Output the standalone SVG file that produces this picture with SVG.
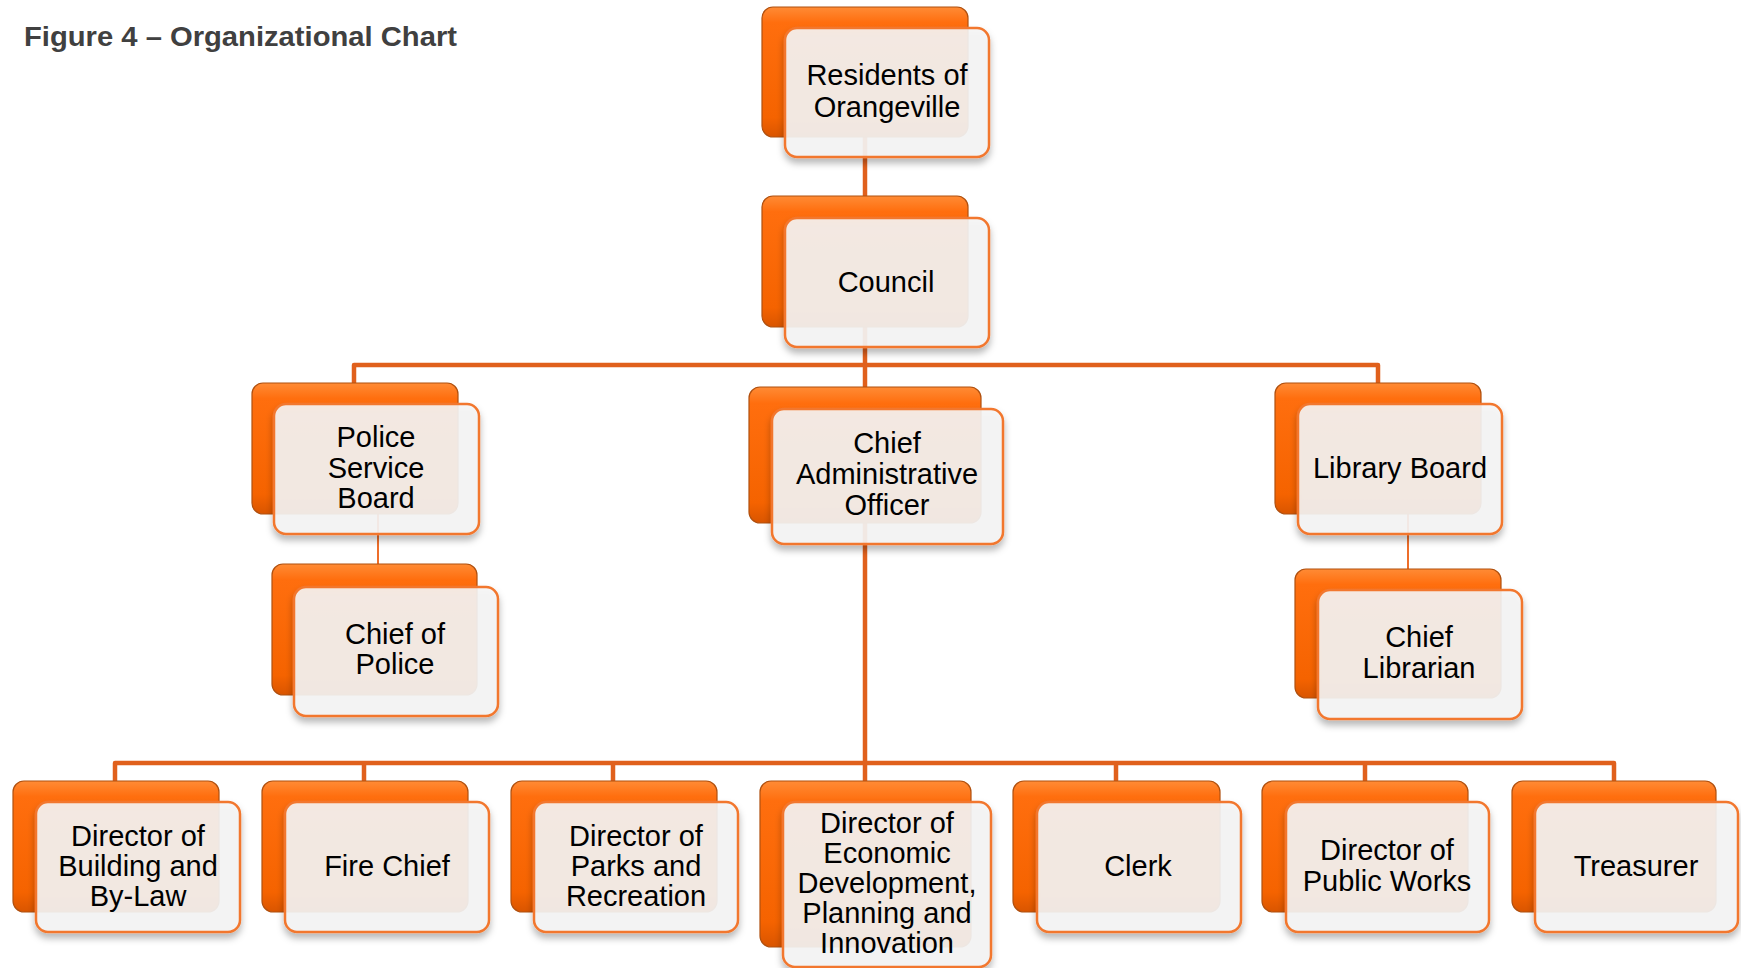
<svg xmlns="http://www.w3.org/2000/svg" width="1741" height="968" viewBox="0 0 1741 968">
<style>
.back{fill:url(#og);stroke:#B0500F;stroke-width:1.2}
.front{fill:#F5F5F5;fill-opacity:0.9;stroke:#F2772E;stroke-width:2.5;filter:url(#sh)}
.t{font-family:"Liberation Sans",Arial,sans-serif;font-size:29px;fill:#000;text-anchor:middle}
.title{font-family:"Liberation Sans",Arial,sans-serif;font-size:28.5px;font-weight:bold;fill:#404040}
.c{stroke:#E0601C;stroke-width:4.5;fill:none;stroke-linejoin:round}
.thin{stroke:#EE6E2A;stroke-width:2;fill:none}
</style>
<defs>
<linearGradient id="og" x1="0" y1="0" x2="0" y2="1">
<stop offset="0" stop-color="#FF8B35"/>
<stop offset="0.12" stop-color="#FF6E0E"/>
<stop offset="0.85" stop-color="#F56300"/>
<stop offset="1" stop-color="#D95500"/>
</linearGradient>
<filter id="sh" x="-10%" y="-10%" width="125%" height="130%">
<feDropShadow dx="0" dy="5" stdDeviation="3.5" flood-color="#000" flood-opacity="0.3"/>
</filter>
</defs>
<rect width="1741" height="968" fill="#fff"/>
<text class="title" x="24" y="46" textLength="433" lengthAdjust="spacingAndGlyphs">Figure 4 – Organizational Chart</text>
<g id="connectors">
<path class="c" d="M865 137 V196"/>
<path class="c" d="M865 327 V387"/>
<path class="c" d="M354 383 V365 H1378 V383"/>
<path class="c" d="M865 523 V781"/>
<path class="c" d="M115 781 V763 H1614 V781"/>
<path class="c" d="M364 763 V781 M613 763 V781 M1116 763 V781 M1365 763 V781"/>
<path class="thin" d="M378 514 V566"/>
<path class="thin" d="M1408 514 V571"/>
</g>
<g id="residents">
<rect class="back" x="762" y="7" width="206" height="130" rx="11"/>
<rect class="front" x="785" y="28" width="204" height="129" rx="12"/>
<text class="t" x="887" y="85">Residents of</text>
<text class="t" x="887" y="117">Orangeville</text>
</g>
<g id="council">
<rect class="back" x="762" y="196" width="206" height="131" rx="11"/>
<rect class="front" x="785" y="218" width="204" height="129" rx="12"/>
<text class="t" x="886" y="292">Council</text>
</g>
<g id="police-board">
<rect class="back" x="252" y="383" width="206" height="131" rx="11"/>
<rect class="front" x="274" y="404" width="205" height="130" rx="12"/>
<text class="t" x="376" y="447">Police</text>
<text class="t" x="376" y="478">Service</text>
<text class="t" x="376" y="508">Board</text>
</g>
<g id="chief-police">
<rect class="back" x="272" y="564" width="205" height="131" rx="11"/>
<rect class="front" x="294" y="587" width="204" height="129" rx="12"/>
<text class="t" x="395" y="644">Chief of</text>
<text class="t" x="395" y="674">Police</text>
</g>
<g id="cao">
<rect class="back" x="749" y="387" width="232" height="136" rx="11"/>
<rect class="front" x="772" y="409" width="231" height="135" rx="12"/>
<text class="t" x="887" y="453">Chief</text>
<text class="t" x="887" y="484">Administrative</text>
<text class="t" x="887" y="515">Officer</text>
</g>
<g id="library-board">
<rect class="back" x="1275" y="383" width="206" height="131" rx="11"/>
<rect class="front" x="1298" y="404" width="204" height="130" rx="12"/>
<text class="t" x="1400" y="478">Library Board</text>
</g>
<g id="chief-librarian">
<rect class="back" x="1295" y="569" width="206" height="129" rx="11"/>
<rect class="front" x="1318" y="590" width="204" height="129" rx="12"/>
<text class="t" x="1419" y="647">Chief</text>
<text class="t" x="1419" y="678">Librarian</text>
</g>
<g id="dir-building">
<rect class="back" x="13" y="781" width="206" height="131" rx="11"/>
<rect class="front" x="36" y="802" width="204" height="130" rx="12"/>
<text class="t" x="138" y="846">Director of</text>
<text class="t" x="138" y="876">Building and</text>
<text class="t" x="138" y="906">By-Law</text>
</g>
<g id="fire-chief">
<rect class="back" x="262" y="781" width="206" height="131" rx="11"/>
<rect class="front" x="285" y="802" width="204" height="130" rx="12"/>
<text class="t" x="387" y="876">Fire Chief</text>
</g>
<g id="dir-parks">
<rect class="back" x="511" y="781" width="206" height="131" rx="11"/>
<rect class="front" x="534" y="802" width="204" height="130" rx="12"/>
<text class="t" x="636" y="846">Director of</text>
<text class="t" x="636" y="876">Parks and</text>
<text class="t" x="636" y="906">Recreation</text>
</g>
<g id="dir-econ">
<rect class="back" x="760" y="781" width="211" height="166" rx="11"/>
<rect class="front" x="783" y="802" width="208" height="165" rx="12"/>
<text class="t" x="887" y="833">Director of</text>
<text class="t" x="887" y="863">Economic</text>
<text class="t" x="887" y="893">Development,</text>
<text class="t" x="887" y="923">Planning and</text>
<text class="t" x="887" y="953">Innovation</text>
</g>
<g id="clerk">
<rect class="back" x="1013" y="781" width="207" height="131" rx="11"/>
<rect class="front" x="1037" y="802" width="204" height="130" rx="12"/>
<text class="t" x="1138" y="876">Clerk</text>
</g>
<g id="dir-public-works">
<rect class="back" x="1262" y="781" width="206" height="131" rx="11"/>
<rect class="front" x="1286" y="802" width="203" height="130" rx="12"/>
<text class="t" x="1387" y="860">Director of</text>
<text class="t" x="1387" y="891">Public Works</text>
</g>
<g id="treasurer">
<rect class="back" x="1512" y="781" width="204" height="131" rx="11"/>
<rect class="front" x="1535" y="802" width="203" height="130" rx="12"/>
<text class="t" x="1636" y="876">Treasurer</text>
</g>
</svg>
